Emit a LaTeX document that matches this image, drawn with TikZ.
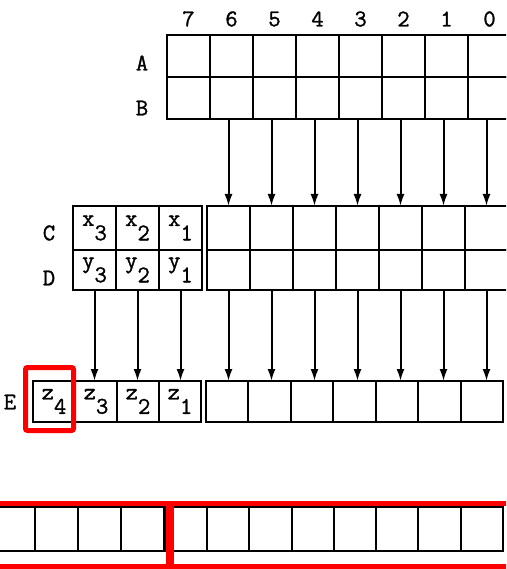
\documentclass[tikz,border=0pt]{standalone}
\usepackage{fontspec}
\newfontfamily\regfont{Latin Modern Mono}[FakeBold=1.2]
\usetikzlibrary{arrows.meta}
\newcommand{\subbit}[2]{#1\raisebox{-0.6em}{#2}}
\begin{document}
\begin{tikzpicture}[x=1pt, y=-1pt, >={Latex[length=12pt,width=8pt]},
		every node/.style={font=\regfont\fontsize{24}{28}\selectfont},
		cell/.style 2 args={draw, line width=2pt, inner sep=0pt, outer sep=0pt, minimum width=#1, minimum height=#2},
		feed/.style={->, line width=2pt},
		mark box/.style={draw=red, line width=5pt, inner sep=0pt, outer sep=0pt}]
	\useasboundingbox (0,0) rectangle (506,569);
	\clip (0,0) rectangle (506,569);
	% registers A and B, bits 7..0
	\foreach \i in {7,...,0}{
		\node[cell={43pt}{42pt}] (a\i) at ({188.5+(7-\i)*43},56) {};
		\node[cell={43pt}{42pt}] (b\i) at ({188.5+(7-\i)*43},98) {};
		\node (n\i) at ({188.5+(7-\i)*43},19) {\i};
	}
	\node (la) at (142,63) {A};
	\node (lb) at (142,108) {B};
	% registers C and D, the x and y bits on the left
	\foreach \k/\x in {3/94.5,2/137.5,1/180.5}{
		\node[cell={43pt}{44pt}] (cx\k) at (\x,228) {\subbit{x}{\k}};
		\node[cell={43pt}{40pt}] (dy\k) at (\x,270) {\subbit{y}{\k}};
	}
	\foreach \i in {6,...,0}{
		\node[cell={43pt}{44pt}] (c\i) at ({228.5+(6-\i)*43},228) {};
		\node[cell={43pt}{40pt}] (d\i) at ({228.5+(6-\i)*43},270) {};
		\draw[feed] (c\i.north |- b\i.south) -- (c\i.north);
	}
	\node (lc) at (49,233) {C};
	\node (ld) at (49,278) {D};
	% register E
	\foreach \k/\x in {4/54,3/96,2/138,1/180}{
		\node[cell={42pt}{41pt}] (ez\k) at (\x,401.5) {\subbit{z}{\k}};
	}
	\foreach \k in {3,2,1}{
		\draw[feed] (dy\k.south) -- (dy\k.south |- ez\k.north);
	}
	\foreach \i in {6,...,0}{
		\node[cell={42.43pt}{41pt}] (e\i) at ({227.2+(6-\i)*42.43},401.5) {};
		\draw[feed] (d\i.south) -- (d\i.south |- e\i.north);
	}
	\node (le) at (10,402) {E};
	% result row
	\foreach \k in {0,...,3}{
		\node[cell={43pt}{44pt}] (l\k) at ({13.5+\k*43},529) {};
	}
	\foreach \k in {0,...,7}{
		\node[cell={42.25pt}{44pt}] (r\k) at ({186.1+\k*42.25},529) {};
	}
	% red marks
	\node[mark box, rounded corners=2pt, minimum width=48pt, minimum height=63pt] (hz) at (49.5,399) {};
	\node[mark box, minimum width=178pt, minimum height=63pt] (hlo) at (79,534.5) {};
	\node[mark box, minimum width=344pt, minimum height=63pt] (hhi) at (343,534.5) {};
\end{tikzpicture}
\end{document}
